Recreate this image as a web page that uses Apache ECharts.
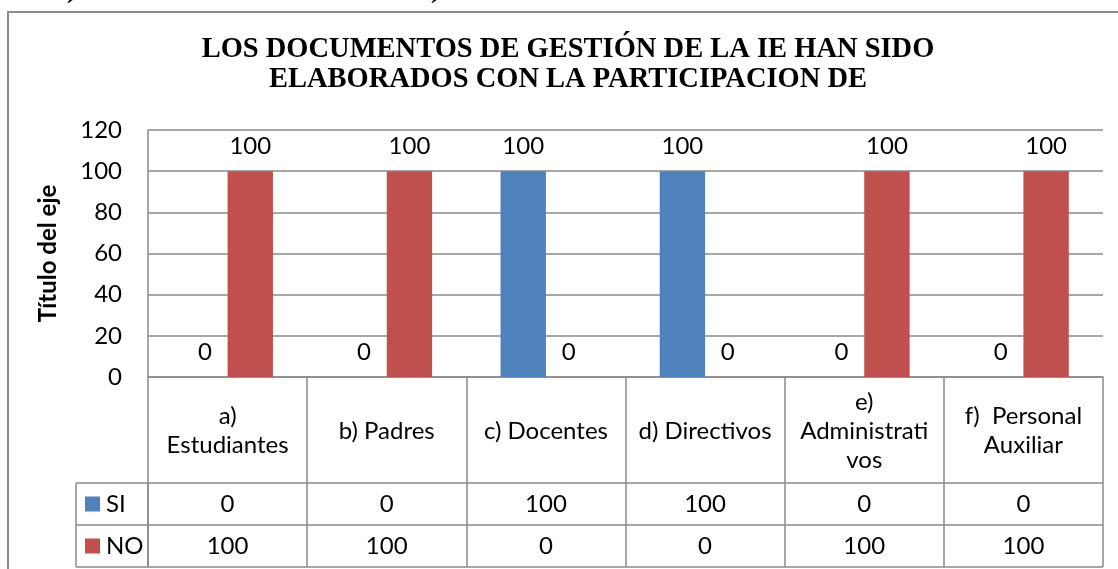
<!DOCTYPE html>
<html>
<head>
<meta charset="utf-8">
<script src="https://cdn.jsdelivr.net/npm/echarts@6/dist/echarts.min.js"></script>
<style>
html,body{margin:0;padding:0;background:#fff;}
#chart{width:1118px;height:569px;}
</style>
</head>
<body>
<div id="chart"></div>
<script>
// datos
var categories=['a)\nEstudiantes','b) Padres','c) Docentes','d) Directivos','e)\nAdministrati\nvos','f)  Personal\nAuxiliar'];
var seriesNames=['SI','NO'];
var siValues=[0,0,100,100,0,0];
var noValues=[100,100,0,0,100,100];
var colors=['#4F81BD','#C0504D'];
var titleText='LOS DOCUMENTOS DE GESTIÓN DE LA IE HAN SIDO\nELABORADOS CON LA PARTICIPACION DE';
var yName='Título del eje';

var FONT='Lato';
var FS=24;
var GRAY='#8a8a8a';
var G_LEFT=148, G_RIGHT=15, G_TOP=130, G_BOTTOM=192;
var ROW1=483, ROW2=525, ROW3=567, LEG_X=76;

var chart=echarts.init(document.getElementById('chart'));
chart.setOption({
    animation:false,
    title:{text:titleText,left:563,top:30,textAlign:'center',
        textStyle:{fontFamily:'Liberation Serif',fontWeight:'bold',fontSize:28.5,lineHeight:30,color:'#000'}},
    grid:{left:G_LEFT,right:G_RIGHT,top:G_TOP,bottom:G_BOTTOM},
    xAxis:{type:'category',data:categories,
        axisLine:{lineStyle:{color:GRAY,width:1.5}},
        axisTick:{show:true,length:ROW3-(569-G_BOTTOM),lineStyle:{color:GRAY,width:1.5}},
        axisLabel:{interval:0,margin:54,verticalAlign:'middle',fontFamily:FONT,fontSize:FS,lineHeight:29,color:'#000'}},
    yAxis:{type:'value',min:0,max:120,interval:20,
        name:yName,nameLocation:'middle',nameRotate:90,nameGap:88,
        nameTextStyle:{fontFamily:FONT,fontWeight:'bold',fontSize:FS,color:'#000'},
        axisLine:{show:true,lineStyle:{color:GRAY,width:1.5}},
        axisTick:{show:false},
        axisLabel:{margin:26,fontFamily:FONT,fontSize:FS,color:'#000'},
        splitLine:{lineStyle:{color:GRAY,width:1.5}}},
    series:[
        {name:seriesNames[0],type:'bar',data:siValues,itemStyle:{color:colors[0]},
         barGap:'0%',barCategoryGap:'43%',
         label:{show:true,position:'top',distance:13,fontFamily:FONT,fontSize:FS,color:'#000'}},
        {name:seriesNames[1],type:'bar',data:noValues,itemStyle:{color:colors[1]},
         barGap:'0%',barCategoryGap:'43%',
         label:{show:true,position:'top',distance:13,fontFamily:FONT,fontSize:FS,color:'#000'}}
    ]
});

// tabla de datos debajo del eje
var right=1118-G_RIGHT;
var g=[];
g.push({type:'rect',shape:{x:8,y:12,width:1130,height:600},style:{fill:null,stroke:GRAY,lineWidth:2},z:0});
g.push({type:'text',x:66,y:-2,style:{text:'´',font:'bold 22px "Liberation Serif"',fill:'#000'}});
g.push({type:'text',x:430,y:-2,style:{text:'´',font:'bold 22px "Liberation Serif"',fill:'#000'}});
[ROW1,ROW2,ROW3].forEach(function(y){
    g.push({type:'line',shape:{x1:LEG_X,y1:y,x2:right,y2:y},style:{stroke:GRAY,lineWidth:1.5}});
});
g.push({type:'line',shape:{x1:LEG_X,y1:ROW1,x2:LEG_X,y2:ROW3},style:{stroke:GRAY,lineWidth:1.5}});
g.push({type:'line',shape:{x1:G_LEFT,y1:ROW1,x2:G_LEFT,y2:ROW3},style:{stroke:GRAY,lineWidth:1.5}});
var rows=[siValues,noValues];
var rowMid=[(ROW1+ROW2)/2,(ROW2+ROW3)/2];
rows.forEach(function(vals,r){
    g.push({type:'rect',shape:{x:85,y:rowMid[r]-7.5,width:15,height:15},style:{fill:colors[r]}});
    g.push({type:'text',x:106,y:rowMid[r],style:{text:seriesNames[r],font:FS+'px '+FONT,fill:'#000',verticalAlign:'middle',align:'left'}});
    vals.forEach(function(v,i){
        var x=chart.convertToPixel({xAxisIndex:0},i);
        g.push({type:'text',x:x,y:rowMid[r],style:{text:String(v),font:FS+'px '+FONT,fill:'#000',align:'center',verticalAlign:'middle'}});
    });
});
chart.setOption({graphic:g});
</script>
</body>
</html>
